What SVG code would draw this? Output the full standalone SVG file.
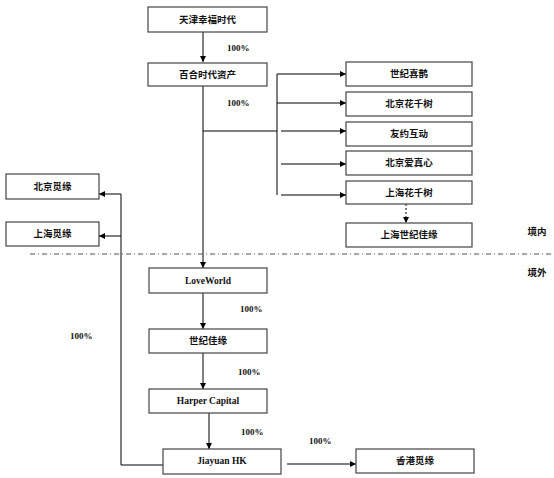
<svg xmlns="http://www.w3.org/2000/svg" width="554" height="478" viewBox="0 0 554 478">
<defs>
<marker id="ah" viewBox="0 0 10 10" refX="10" refY="5" markerWidth="6" markerHeight="6" markerUnits="userSpaceOnUse" orient="auto">
<path d="M0,0 L10,5 L0,10 z" fill="#000"/>
</marker>
</defs>
<style>
.box{fill:#fff;stroke:#444;stroke-width:1.2}
.t{font-family:"Liberation Serif","Noto Sans CJK SC",serif;font-weight:bold;font-size:9.5px;text-anchor:middle;fill:#111}
.p{font-family:"Liberation Serif",serif;font-weight:bold;font-size:9px;fill:#111}
.c{stroke:#000;stroke-width:1;fill:none}
.a{stroke:#000;stroke-width:1;fill:none;marker-end:url(#ah)}
</style>
<rect width="554" height="478" fill="#fff"/>
<g id="connectors">
<path class="a" d="M203,32 V62"/>
<path class="c" d="M203,86 V131 H277"/>
<path class="a" d="M203,131 V268"/>
<path class="c" d="M277,74 V195"/>
<path class="a" d="M277,74 H346"/>
<path class="a" d="M277,103 H346"/>
<path class="a" d="M281,131 H346"/>
<path class="a" d="M281,164 H346"/>
<path class="a" d="M281,195 H346"/>
<path class="a" d="M406,204 V223" stroke-dasharray="2,2"/>
<path class="a" d="M203,293 V329"/>
<path class="a" d="M203,353 V389"/>
<path class="a" d="M209,413 V449"/>
<path class="c" d="M163,465 H121 V194"/>
<path class="a" d="M121,194 H99"/>
<path class="a" d="M121,236 H99"/>
<path class="a" d="M287,464 H356"/>
<path d="M30,254 H552" stroke="#555" stroke-width="1" stroke-dasharray="5,3,1,3"/>
</g>
<g id="n1"><rect class="box" x="148" y="7" width="119" height="25"/><text class="t" x="207.5" y="23">天津幸福时代</text></g>
<g id="n2"><rect class="box" x="148" y="63" width="119" height="23"/><text class="t" x="207.5" y="78">百合时代资产</text></g>
<g id="n3"><rect class="box" x="346" y="62" width="126" height="24"/><text class="t" x="409" y="77">世纪喜鹊</text></g>
<g id="n4"><rect class="box" x="346" y="92" width="126" height="24"/><text class="t" x="409" y="107">北京花千树</text></g>
<g id="n5"><rect class="box" x="346" y="122" width="126" height="24"/><text class="t" x="409" y="137">友约互动</text></g>
<g id="n6"><rect class="box" x="346" y="151" width="126" height="24"/><text class="t" x="409" y="166">北京爱真心</text></g>
<g id="n7"><rect class="box" x="346" y="181" width="126" height="23"/><text class="t" x="409" y="196">上海花千树</text></g>
<g id="n8"><rect class="box" x="346" y="223" width="126" height="24"/><text class="t" x="409" y="238">上海世纪佳缘</text></g>
<g id="n9"><rect class="box" x="6" y="174" width="93" height="25"/><text class="t" x="52.5" y="190">北京觅缘</text></g>
<g id="n10"><rect class="box" x="6" y="222" width="93" height="24"/><text class="t" x="52.5" y="237">上海觅缘</text></g>
<g id="n11"><rect class="box" x="149" y="268" width="118" height="25"/><text class="t" x="208" y="284">LoveWorld</text></g>
<g id="n12"><rect class="box" x="149" y="329" width="118" height="24"/><text class="t" x="208" y="344">世纪佳缘</text></g>
<g id="n13"><rect class="box" x="149" y="389" width="118" height="24"/><text class="t" x="208" y="404">Harper Capital</text></g>
<g id="n14"><rect class="box" x="163" y="449" width="118" height="25"/><text class="t" x="222" y="464">Jiayuan HK</text></g>
<g id="n15"><rect class="box" x="356" y="449" width="118" height="24"/><text class="t" x="415" y="464">香港觅缘</text></g>
<g id="labels">
<text class="p" x="227" y="51">100%</text>
<text class="p" x="227" y="106">100%</text>
<text class="p" x="240" y="312">100%</text>
<text class="p" x="238" y="375">100%</text>
<text class="p" x="241" y="435">100%</text>
<text class="p" x="70" y="339">100%</text>
<text class="p" x="309" y="444">100%</text>
<text class="t" x="537" y="235">境内</text>
<text class="t" x="537" y="276">境外</text>
</g>
</svg>
